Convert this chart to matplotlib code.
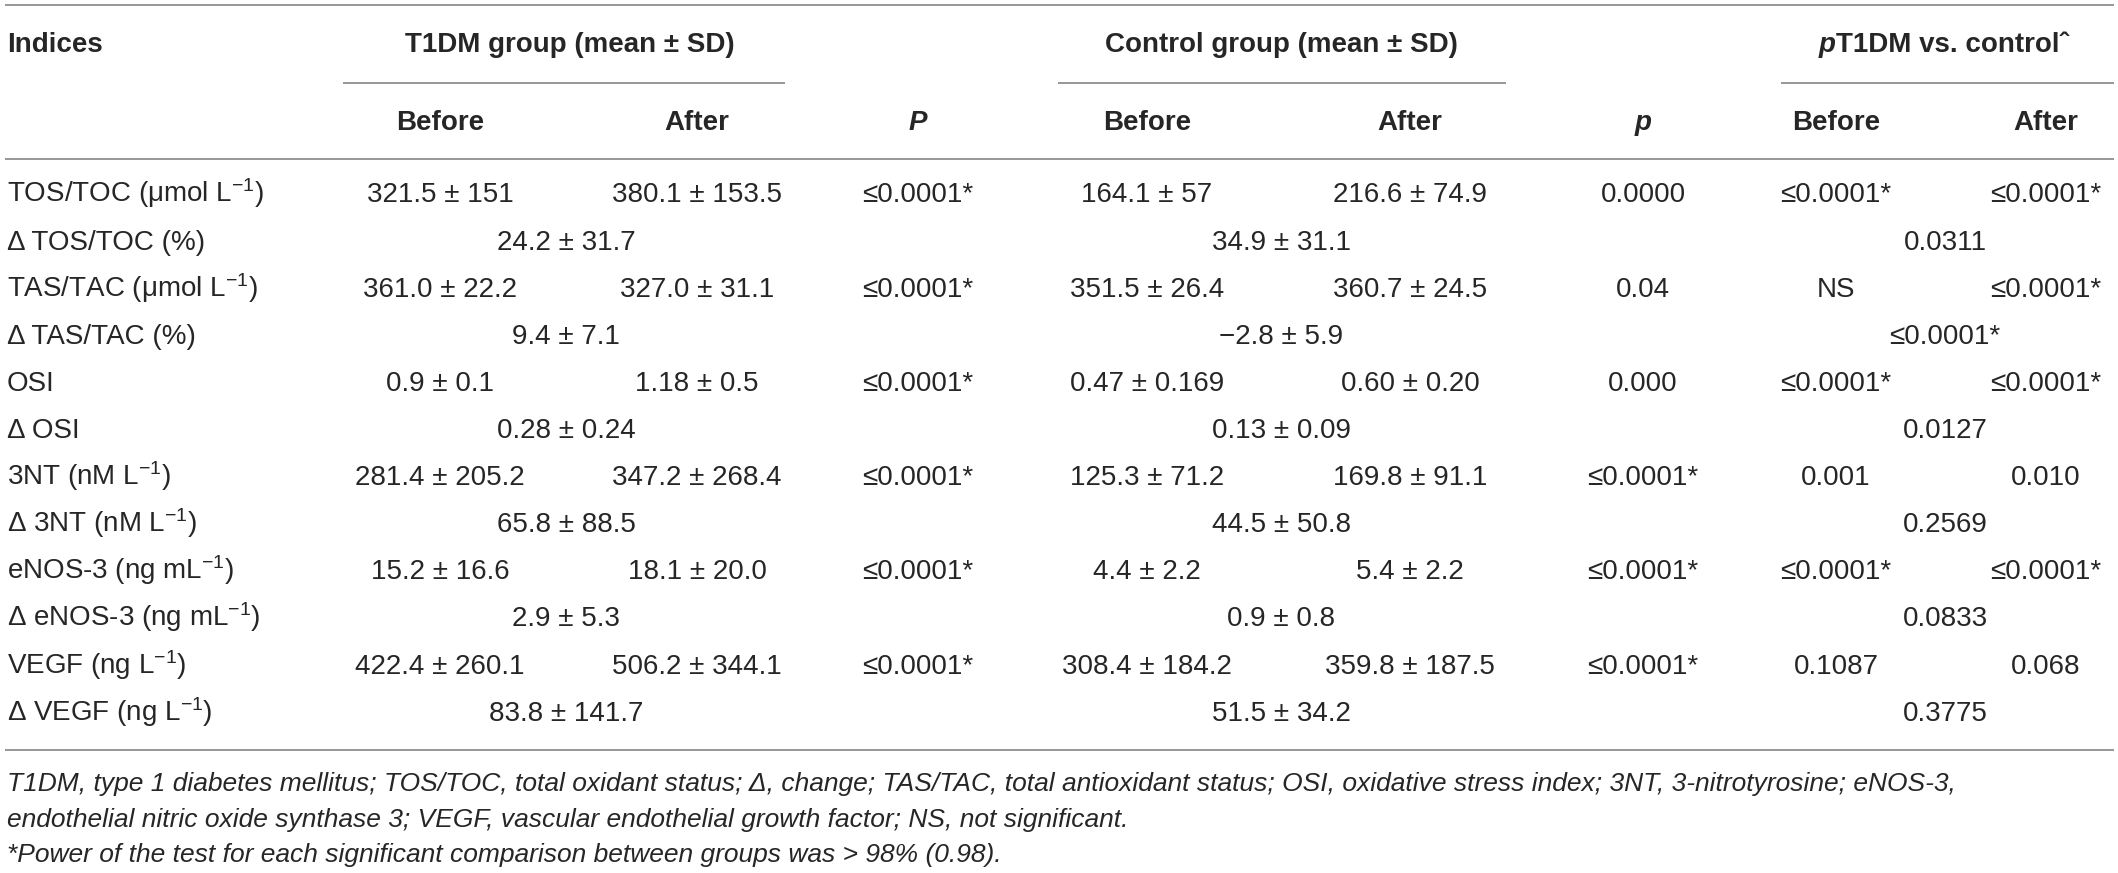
import matplotlib
matplotlib.use("Agg")
import matplotlib.pyplot as plt

plt.rcParams["font.family"] = ["Liberation Sans", "DejaVu Sans"]
plt.rcParams["mathtext.fontset"] = "custom"
plt.rcParams["mathtext.rm"] = "Liberation Sans"
plt.rcParams["mathtext.it"] = "Liberation Sans:italic"
plt.rcParams["mathtext.bf"] = "Liberation Sans:bold"

# table content
index_labels = ["TOS/TOC (μmol L$^{-1}$)", "TAS/TAC (μmol L$^{-1}$)", "OSI",
                "3NT (nM L$^{-1}$)", "eNOS-3 (ng mL$^{-1}$)", "VEGF (ng L$^{-1}$)"]
delta_labels = ["Δ TOS/TOC (%)", "Δ TAS/TAC (%)", "Δ OSI",
                "Δ 3NT (nM L$^{-1}$)", "Δ eNOS-3 (ng mL$^{-1}$)", "Δ VEGF (ng L$^{-1}$)"]

t1dm_before = ["321.5 ± 151", "361.0 ± 22.2", "0.9 ± 0.1", "281.4 ± 205.2", "15.2 ± 16.6", "422.4 ± 260.1"]
t1dm_after = ["380.1 ± 153.5", "327.0 ± 31.1", "1.18 ± 0.5", "347.2 ± 268.4", "18.1 ± 20.0", "506.2 ± 344.1"]
t1dm_p = ["≤0.0001*", "≤0.0001*", "≤0.0001*", "≤0.0001*", "≤0.0001*", "≤0.0001*"]
t1dm_delta = ["24.2 ± 31.7", "9.4 ± 7.1", "0.28 ± 0.24", "65.8 ± 88.5", "2.9 ± 5.3", "83.8 ± 141.7"]

ctrl_before = ["164.1 ± 57", "351.5 ± 26.4", "0.47 ± 0.169", "125.3 ± 71.2", "4.4 ± 2.2", "308.4 ± 184.2"]
ctrl_after = ["216.6 ± 74.9", "360.7 ± 24.5", "0.60 ± 0.20", "169.8 ± 91.1", "5.4 ± 2.2", "359.8 ± 187.5"]
ctrl_p = ["0.0000", "0.04", "0.000", "≤0.0001*", "≤0.0001*", "≤0.0001*"]
ctrl_delta = ["34.9 ± 31.1", "−2.8 ± 5.9", "0.13 ± 0.09", "44.5 ± 50.8", "0.9 ± 0.8", "51.5 ± 34.2"]

vs_before = ["≤0.0001*", "NS", "≤0.0001*", "0.001", "≤0.0001*", "0.1087"]
vs_after = ["≤0.0001*", "≤0.0001*", "≤0.0001*", "0.010", "≤0.0001*", "0.068"]
vs_delta = ["0.0311", "≤0.0001*", "0.0127", "0.2569", "0.0833", "0.3775"]

footnotes = [
    "T1DM, type 1 diabetes mellitus; TOS/TOC, total oxidant status; Δ, change; TAS/TAC, total antioxidant "
    "status; OSI, oxidative stress index; 3NT, 3-nitrotyrosine; eNOS-3,",
    "endothelial nitric oxide synthase 3; VEGF, vascular endothelial growth factor; NS, not significant.",
    "*Power of the test for each significant comparison between groups was > 98% (0.98).",
]

W, H = 2118, 873
TXT = "#262626"
RULE = "#7a7a7a"
FS = 20

fig = plt.figure(figsize=(W / 100, H / 100), dpi=100)
ax = fig.add_axes([0, 0, 1, 1])
ax.set_xlim(0, W)
ax.set_ylim(H, 0)
ax.axis("off")

# column centres (pixels)
x_label = 7
x_t_before, x_t_after, x_t_p, x_t_mid = 440, 697, 918, 566
x_c_before, x_c_after, x_c_p, x_c_mid = 1147, 1410, 1643, 1281
x_v_before, x_v_after, x_v_mid = 1836, 2046, 1945

# rules
ax.hlines([5, 159, 750], 5, 2114, color=RULE, lw=1.1)
ax.hlines(83, 343, 785, color=RULE, lw=1.1)
ax.hlines(83, 1058, 1506, color=RULE, lw=1.1)
ax.hlines(83, 1781, 2114, color=RULE, lw=1.1)

# header
hdr = dict(fontsize=FS, fontweight="bold", color=TXT, va="baseline")
ax.text(x_label, 52, "Indices", ha="left", **hdr)
ax.text(x_t_mid + 4, 52, "T1DM group (mean ± SD)", ha="center", **hdr)
ax.text(x_c_mid, 52, "Control group (mean ± SD)", ha="center", **hdr)
ax.text(1836, 52, "p", ha="right", fontstyle="italic", **hdr)
ax.text(1836, 52, "T1DM vs. controlˆ", ha="left", **hdr)
for xb, xa in [(x_t_before, x_t_after), (x_c_before, x_c_after), (x_v_before, x_v_after)]:
    ax.text(xb, 130, "Before", ha="center", **hdr)
    ax.text(xa, 130, "After", ha="center", **hdr)
ax.text(x_t_p, 130, "P", ha="center", fontstyle="italic", **hdr)
ax.text(x_c_p, 130, "p", ha="center", fontstyle="italic", **hdr)

# body
body = dict(fontsize=FS, color=TXT, va="baseline")
y0, dy = 202.5, 47.1
for i in range(len(index_labels)):
    y = y0 + 2 * i * dy
    yd = y + dy
    ax.text(x_label, y, index_labels[i], ha="left", **body)
    ax.text(x_t_before, y, t1dm_before[i], ha="center", **body)
    ax.text(x_t_after, y, t1dm_after[i], ha="center", **body)
    ax.text(x_t_p, y, t1dm_p[i], ha="center", **body)
    ax.text(x_c_before, y, ctrl_before[i], ha="center", **body)
    ax.text(x_c_after, y, ctrl_after[i], ha="center", **body)
    ax.text(x_c_p, y, ctrl_p[i], ha="center", **body)
    ax.text(x_v_before, y, vs_before[i], ha="center", **body)
    ax.text(x_v_after, y, vs_after[i], ha="center", **body)

    ax.text(x_label, yd, delta_labels[i], ha="left", **body)
    ax.text(x_t_mid, yd, t1dm_delta[i], ha="center", **body)
    ax.text(x_c_mid, yd, ctrl_delta[i], ha="center", **body)
    ax.text(x_v_mid, yd, vs_delta[i], ha="center", **body)

# footnotes
for k, line in enumerate(footnotes):
    ax.text(x_label, 791 + 35.5 * k, line, ha="left", va="baseline",
            fontsize=FS - 1, fontstyle="italic", color=TXT)

fig.savefig("out.png", dpi=100)
